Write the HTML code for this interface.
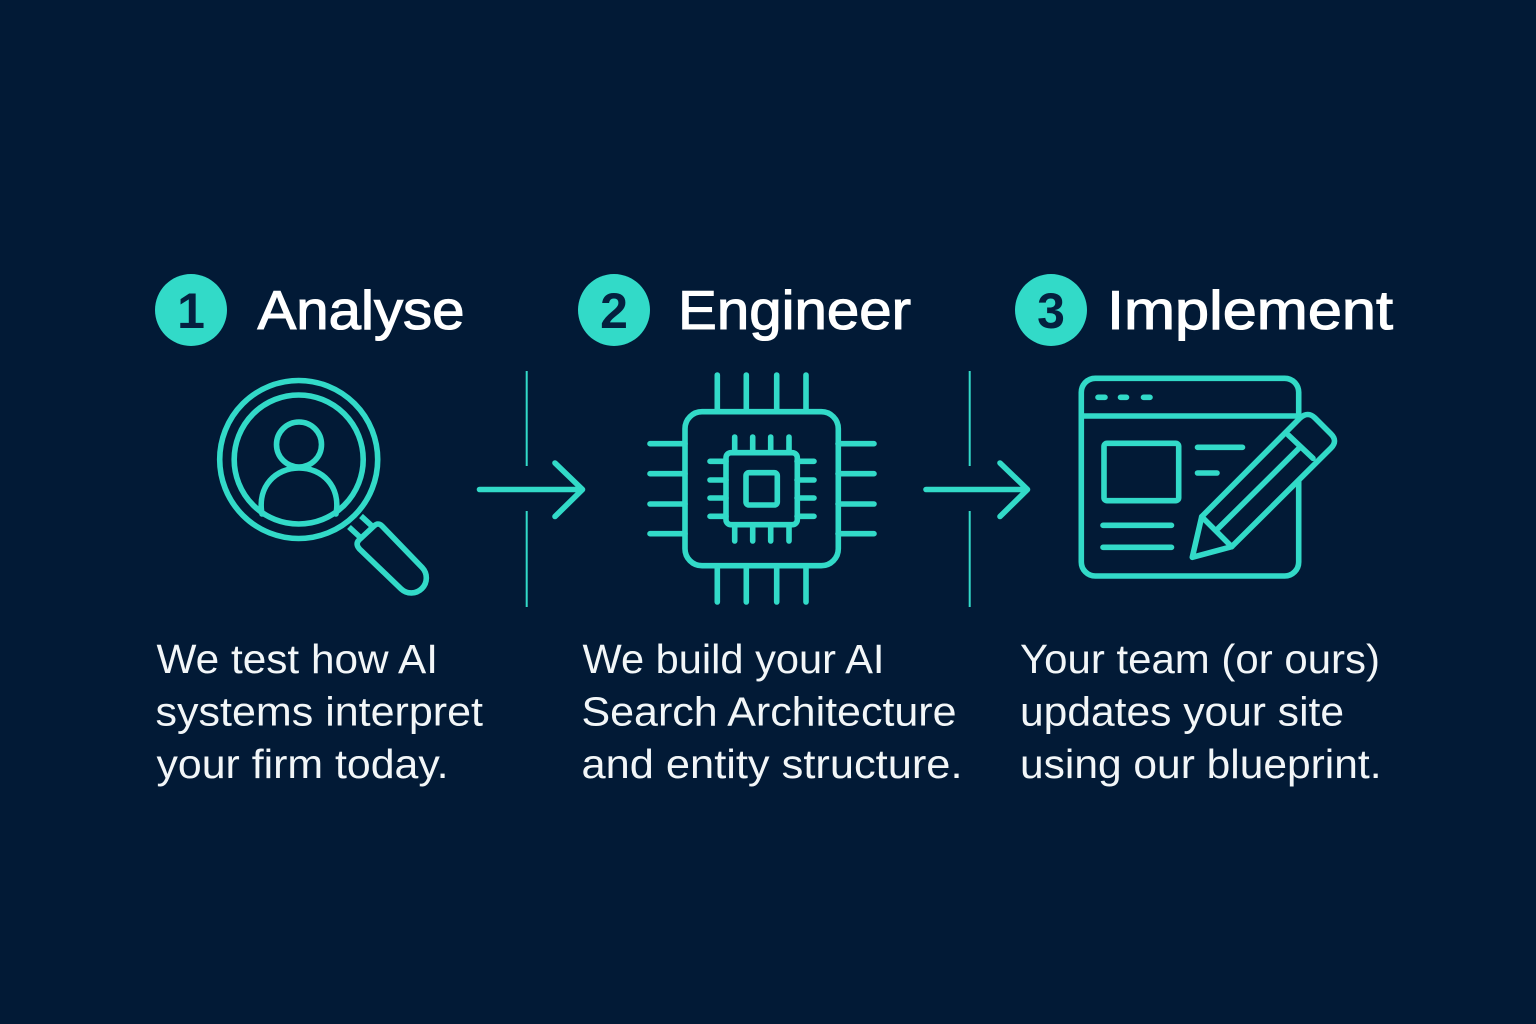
<!DOCTYPE html>
<html lang="en">
<head>
<meta charset="utf-8">
<title>Analyse, Engineer, Implement</title>
<style>
html,body{margin:0;padding:0;background:#021a36;width:1536px;height:1024px;overflow:hidden}
svg{display:block}
.ln{fill:none;stroke:#32dac8;stroke-width:5.6;stroke-linecap:round;stroke-linejoin:round}
.dv{stroke:#32dac8;stroke-width:2;fill:none}
.h{font-family:"Liberation Sans",sans-serif;font-size:55px;fill:#fff;stroke:#fff;stroke-width:1.1}
.b{font-family:"Liberation Sans",sans-serif;font-size:40.5px;fill:#f2f6f8}
.n{font-family:"Liberation Sans",sans-serif;font-size:50px;font-weight:700;fill:#04203f;text-anchor:middle}
</style>
</head>
<body>
<svg width="1536" height="1024" viewBox="0 0 1536 1024" xmlns="http://www.w3.org/2000/svg">
<rect width="1536" height="1024" fill="#021a36"/>

<!-- Badges and headings -->
<circle cx="191" cy="310" r="36" fill="#32dac8"/>
<text class="n" x="191" y="328">1</text>
<text class="h" x="257.5" y="329" textLength="207" lengthAdjust="spacingAndGlyphs">Analyse</text>

<circle cx="614" cy="310" r="36" fill="#32dac8"/>
<text class="n" x="614" y="328">2</text>
<text class="h" x="678" y="329" textLength="233" lengthAdjust="spacingAndGlyphs">Engineer</text>

<circle cx="1051" cy="310" r="36" fill="#32dac8"/>
<text class="n" x="1051" y="328">3</text>
<text class="h" x="1107" y="329" textLength="286" lengthAdjust="spacingAndGlyphs">Implement</text>

<!-- Magnifier icon -->
<g class="ln">
<circle cx="298.7" cy="459.5" r="79"/>
<circle cx="298.7" cy="459.5" r="64.5"/>
<circle cx="299" cy="444.5" r="22.5"/>
<path d="M262 514C257 486 276 468 299 468C322 468 341 486 336 514"/>
<path d="M349 527L362 539M361 516L373 527" stroke-linecap="butt"/>
<path d="M374 526Q378 522 382 526L422.3 567.7A15 15 0 0 1 401.1 588.9L359.5 549Q355 544 359 540Z"/>
</g>

<!-- Divider 1 and arrow -->
<path class="dv" d="M526.7 371V466M526.7 511V607"/>
<path class="ln" d="M479.5 489.5H582M555 463L582.5 489.5L555 516.5"/>

<!-- Chip icon -->
<g class="ln">
<rect x="685" y="411.7" width="153.3" height="154" rx="17"/>
<path d="M717.3 375V411M746.3 375V411M776.7 375V411M806 375V411"/>
<path d="M717.3 566V602M746.3 566V602M776.7 566V602M806 566V602"/>
<path d="M650 443.7H685M650 473.7H685M650 504H685M650 533.7H685"/>
<path d="M838 443.7H874M838 473.7H874M838 504H874M838 533.7H874"/>
<rect x="726" y="452.7" width="71.3" height="72" rx="5"/>
<path d="M734.7 437V452M752.7 437V452M770.7 437V452M789 437V452"/>
<path d="M734.7 525V541M752.7 525V541M770.7 525V541M789 525V541"/>
<path d="M710 461.3H726M710 480H726M710 498H726M710 516.3H726"/>
<path d="M797 461.3H814M797 480H814M797 498H814M797 516.3H814"/>
<rect x="746" y="472.7" width="31.3" height="32.3" rx="3"/>
</g>

<!-- Divider 2 and arrow -->
<path class="dv" d="M969.7 371V466M969.7 511V607"/>
<path class="ln" d="M926 489.5H1027M1000 463L1027.5 489.5L1000 516.5"/>

<!-- Browser and pencil icon -->
<g class="ln">
<rect x="1081.3" y="378.3" width="217.4" height="197.7" rx="14"/>
<path d="M1081.3 416H1296"/>
<path d="M1098 397.3H1105M1120.5 397.3H1126.5M1143.5 397.3H1150"/>
<rect x="1104" y="443.3" width="74.7" height="57.4" rx="3"/>
<path d="M1197.5 447.3H1242.5M1197.5 473H1217"/>
<path d="M1103 525.3H1171.5M1103 547.3H1171.5"/>
<path fill="#021a36" d="M1201.7 516.7L1300 418Q1308 411 1315 418L1331 434Q1338 441 1331 448L1231.7 546.7L1192.3 557.3Z"/>
<path d="M1288.3 435L1313 458.3M1300 447.3L1218.3 528.3M1201.7 516.7L1231.7 546.7"/>
</g>

<!-- Body copy -->
<text class="b" x="156.5" y="673.2" textLength="281.5" lengthAdjust="spacingAndGlyphs">We test how AI</text>
<text class="b" x="155.5" y="725.5" textLength="327.5" lengthAdjust="spacingAndGlyphs">systems interpret</text>
<text class="b" x="156.5" y="777.8" textLength="292" lengthAdjust="spacingAndGlyphs">your firm today.</text>

<text class="b" x="582.5" y="673.2" textLength="302" lengthAdjust="spacingAndGlyphs">We build your AI</text>
<text class="b" x="581.5" y="725.5" textLength="375" lengthAdjust="spacingAndGlyphs">Search Architecture</text>
<text class="b" x="581.5" y="777.8" textLength="381" lengthAdjust="spacingAndGlyphs">and entity structure.</text>

<text class="b" x="1020" y="673.2" textLength="360" lengthAdjust="spacingAndGlyphs">Your team (or ours)</text>
<text class="b" x="1020" y="725.5" textLength="324" lengthAdjust="spacingAndGlyphs">updates your site</text>
<text class="b" x="1020" y="777.8" textLength="361.5" lengthAdjust="spacingAndGlyphs">using our blueprint.</text>
</svg>
</body>
</html>
